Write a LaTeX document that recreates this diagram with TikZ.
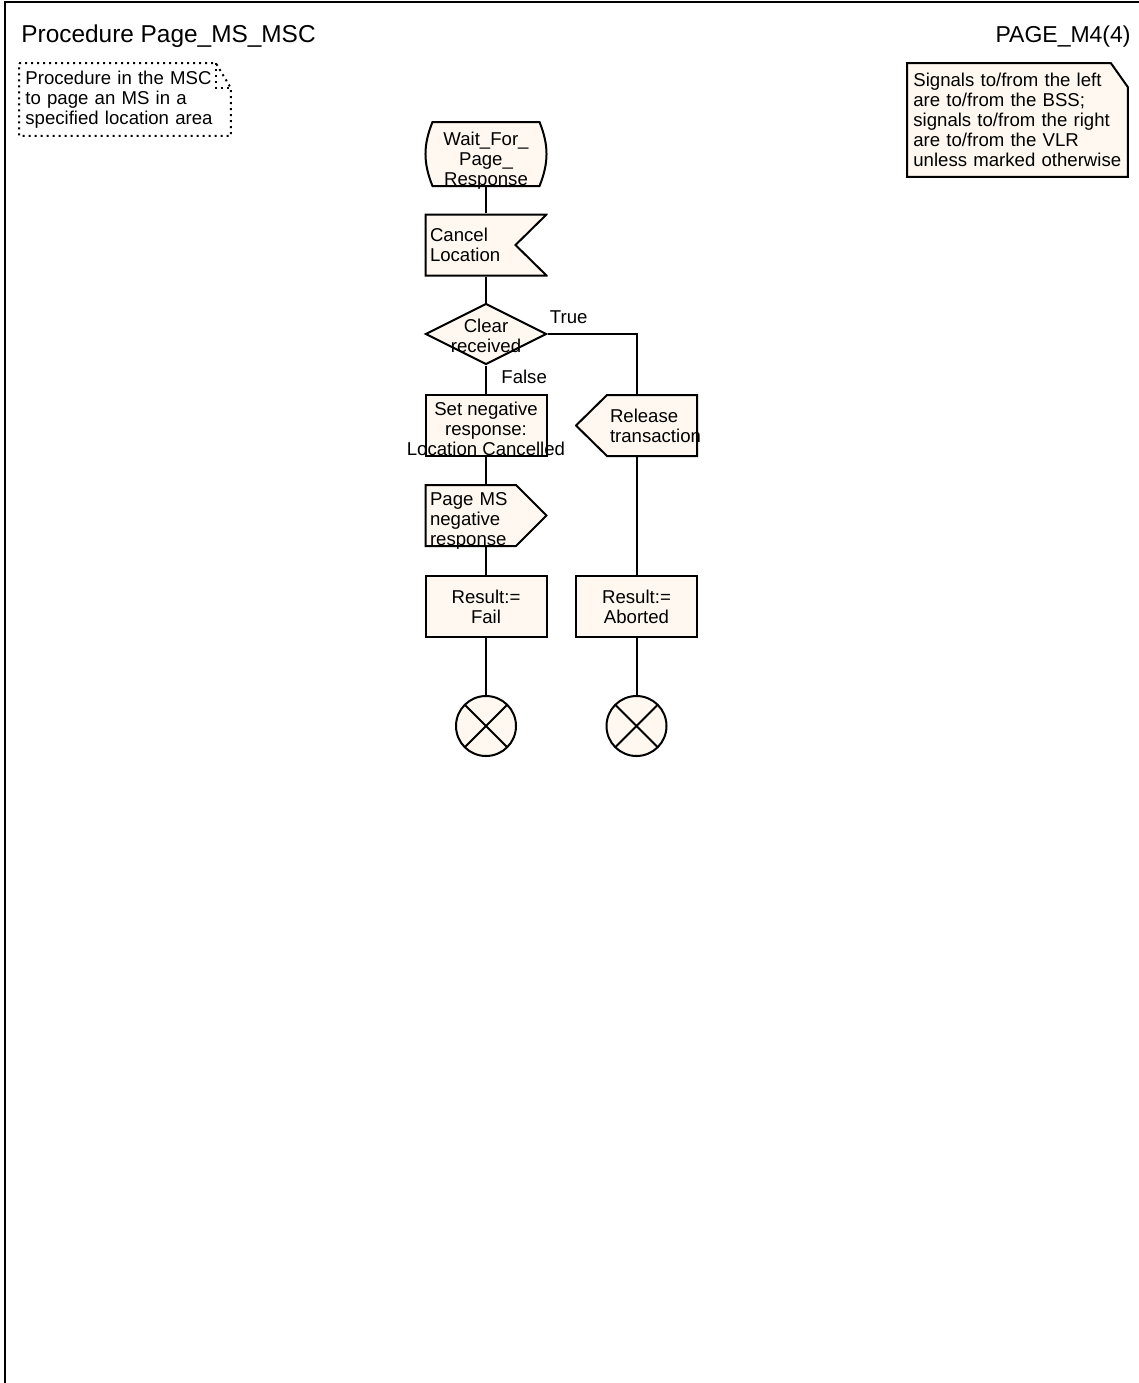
\documentclass[tikz,border=0pt]{standalone}
\usepackage{fontspec}
\setmainfont{Liberation Sans}
\usetikzlibrary{shapes.geometric,backgrounds}
\definecolor{sdlCream}{HTML}{FEF8F0}
\definecolor{sdlInk}{HTML}{000000}
\tikzset{
  sdl frame/.style={draw=sdlInk, line width=1.3pt},
  sdl line/.style={draw=sdlInk, line width=1pt},
  sdl text/.style={font=\fontsize{9.3}{10}\selectfont, text=sdlInk},
  sdl title/.style={font=\fontsize{11.5}{13}\selectfont, text=sdlInk, inner sep=0pt},
  sdl lower/.style={text height=#1, text depth=0pt},
  sdl node/.style={sdl text, rectangle, minimum width=61.5pt, minimum height=31.5pt, inner sep=0pt},
  sdl task/.style={sdl node, sdl line, fill=sdlCream, minimum width=60.5pt, minimum height=30.5pt, align=center},
  sdl state/.style={sdl node, minimum width=62.5pt, minimum height=33pt, align=center,
    path picture={\filldraw[sdl line, fill=sdlCream]
      ([shift={(4.5pt,-0.5pt)}]path picture bounding box.north west)
      -- ([shift={(-4.5pt,-0.5pt)}]path picture bounding box.north east)
      to[bend left=22] ([shift={(-4.5pt,0.5pt)}]path picture bounding box.south east)
      -- ([shift={(4.5pt,0.5pt)}]path picture bounding box.south west)
      to[bend left=22] ([shift={(4.5pt,-0.5pt)}]path picture bounding box.north west) -- cycle;}},
  sdl input/.style={sdl node, inner xsep=2.75pt, text width=56pt, align=left,
    path picture={\filldraw[sdl line, fill=sdlCream]
      ([shift={(0.5pt,-0.5pt)}]path picture bounding box.north west)
      -- ([shift={(-0.5pt,-0.5pt)}]path picture bounding box.north east)
      -- ([xshift=-16pt]path picture bounding box.east)
      -- ([shift={(-0.5pt,0.5pt)}]path picture bounding box.south east)
      -- ([shift={(0.5pt,0.5pt)}]path picture bounding box.south west) -- cycle;}},
  sdl output/.style={sdl node, inner xsep=2.75pt, text width=56pt, align=left,
    path picture={\filldraw[sdl line, fill=sdlCream]
      ([shift={(0.5pt,-0.5pt)}]path picture bounding box.north west)
      -- ([shift={(-15.75pt,-0.5pt)}]path picture bounding box.north east)
      -- ([xshift=-0.5pt]path picture bounding box.east)
      -- ([shift={(-15.75pt,0.5pt)}]path picture bounding box.south east)
      -- ([shift={(0.5pt,0.5pt)}]path picture bounding box.south west) -- cycle;}},
  sdl output left/.style={sdl node, inner xsep=17.5pt, text width=26.5pt, align=left,
    path picture={\filldraw[sdl line, fill=sdlCream]
      ([xshift=0.5pt]path picture bounding box.west)
      -- ([shift={(16pt,-0.5pt)}]path picture bounding box.north west)
      -- ([shift={(-0.5pt,-0.5pt)}]path picture bounding box.north east)
      -- ([shift={(-0.5pt,0.5pt)}]path picture bounding box.south east)
      -- ([shift={(16pt,0.5pt)}]path picture bounding box.south west) -- cycle;}},
  sdl decision/.style={sdl text, sdl line, fill=sdlCream, diamond, aspect=2, minimum width=60.5pt, minimum height=30.5pt, inner sep=0pt},
  sdl stop/.style={sdl line, fill=sdlCream, circle, minimum size=30pt, inner sep=0pt,
    path picture={\draw[sdl line] (path picture bounding box.north west) -- (path picture bounding box.south east)
      (path picture bounding box.north east) -- (path picture bounding box.south west);}},
  sdl note/.style={sdl text, align=left, anchor=north west, inner xsep=3pt, inner ysep=0pt},
  sdl label/.style={sdl text, inner sep=0pt},
}
\begin{document}
\begin{tikzpicture}[x=0.5pt, y=-0.5pt]
  \useasboundingbox (0,0) rectangle (1139,1383);
  \draw[sdl frame] (5,1383) -- (5,2) -- (1139,2);
  \node[sdl title, font=\fontsize{12.2}{14}\selectfont, anchor=base west] (title) at (21,42) {Procedure Page\_MS\_MSC};
  \node[sdl title, anchor=base east] (page) at (1131,42) {PAGE\_M4(4)};

  \node[sdl note, text width=99.5pt, minimum height=36pt] (scope) at (19,63)
    {Procedure in the MSC\\to page an MS in a\\specified location area};
  \node[sdl note, text width=104pt, minimum height=56.5pt] (legend) at (907,63)
    {Signals to/from the left\\are to/from the BSS;\\signals to/from the right\\are to/from the VLR\\unless marked otherwise};
  \begin{scope}[on background layer]
    \draw[sdl line, dotted] (scope.north west) -- ([xshift=-7.5pt]scope.north east)
      -- ([yshift=-12.5pt]scope.north east) -- (scope.south east) -- (scope.south west) -- cycle;
    \draw[sdl line, dotted] ([xshift=-7.5pt]scope.north east) -- ([xshift=-7.5pt, yshift=-12.5pt]scope.north east)
      -- ([yshift=-12.5pt]scope.north east);
    \filldraw[sdl line, fill=sdlCream] (legend.north west) -- ([xshift=-8.5pt]legend.north east)
      -- ([yshift=-12pt]legend.north east) -- (legend.south east) -- (legend.south west) -- cycle;
  \end{scope}

  \node[sdl state, sdl lower=31pt] (wait) at (486,154) {Wait\_For\_\\Page\_\\Response};
  \node[sdl input] (cancel) at (486,245) {Cancel\\Location};
  \node[sdl decision, label={[sdl text, align=center, yshift=-1pt]center:Clear\\received}] (clear) at (486,334) {};
  \node[sdl task, sdl lower=29.5pt] (setneg) at (486,425.5) {Set negative\\response:\\\makebox[0pt]{Location Cancelled}};
  \node[sdl output, text height=0pt, text depth=10.5pt] (pagems) at (486,515.5) {Page MS\\negative\\response};
  \node[sdl task] (fail) at (486,606.5) {Result:=\\Fail};
  \node[sdl stop] (stopfail) at (486,726) {};
  \node[sdl output left] (release) at (636.5,425.5) {Release\\transaction};
  \node[sdl task] (aborted) at (636.5,606.5) {Result:=\\Aborted};
  \node[sdl stop] (stopabort) at (636.5,726) {};

  \node[sdl label, anchor=base west] (true) at ([xshift=1pt, yshift=5.5pt]clear.east) {True};
  \node[sdl label, anchor=base west] (false) at ([xshift=7.5pt, yshift=-9pt]clear.south) {False};

  \draw[sdl line] (wait) -- (cancel);
  \draw[sdl line] (cancel) -- (clear);
  \draw[sdl line] (clear) -- (setneg);
  \draw[sdl line] (setneg) -- (pagems);
  \draw[sdl line] (pagems) -- (fail);
  \draw[sdl line] (fail) -- (stopfail);
  \draw[sdl line] (clear.east) -| (release.north);
  \draw[sdl line] (release) -- (aborted);
  \draw[sdl line] (aborted) -- (stopabort);
\end{tikzpicture}
\end{document}
